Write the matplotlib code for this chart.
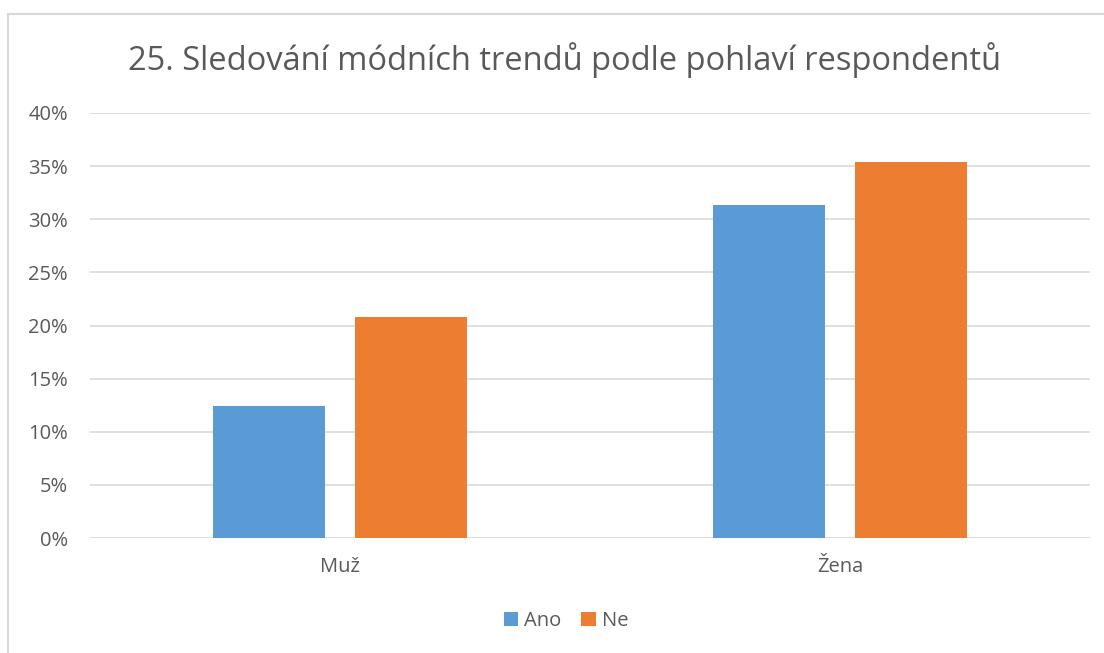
import matplotlib.pyplot as plt
from matplotlib.patches import Rectangle
import numpy as np

categories = ["Muž", "Žena"]
series_names = ["Ano", "Ne"]
ano = [0.124, 0.313]
ne = [0.208, 0.354]
yticks = [0, 0.05, 0.10, 0.15, 0.20, 0.25, 0.30, 0.35, 0.40]

text_col = "#595959"
grid_col = "#d9d9d9"
colors = ["#5b9bd5", "#ed7d31"]

plt.rcParams['font.family'] = ['Open Sans', 'DejaVu Sans']

fig = plt.figure(figsize=(11.04, 6.53), dpi=100)
W, H = 1104, 653

# outer chart frame
fig.patches.append(Rectangle((8 / W, -0.01), 1.1, 1 - 14 / H + 0.01, transform=fig.transFigure,
                             fill=False, edgecolor=grid_col, linewidth=1.5))

ax = fig.add_axes([90 / W, 1 - 538 / H, 1000 / W, 425 / H])
x = np.arange(len(categories))
bw = 0.224
off = 0.142
ax.bar(x - off, ano, bw, color=colors[0], label=series_names[0], zorder=3)
ax.bar(x + off, ne, bw, color=colors[1], label=series_names[1], zorder=3)

ax.set_xlim(-0.5, 1.5)
ax.set_ylim(0, 0.40)
ax.set_yticks(yticks)
ax.set_yticklabels([f"{int(round(v * 100))}%" for v in yticks])
ax.set_xticks(x)
ax.set_xticklabels(categories)
ax.tick_params(axis='both', length=0, labelsize=14.5, colors=text_col)
ax.tick_params(axis='y', pad=16)
ax.tick_params(axis='x', pad=14)
ax.grid(axis='y', color=grid_col, linewidth=1.2, zorder=0)
for s in ax.spines.values():
    s.set_visible(False)

fig.text(565 / W, 1 - 60 / H, "25. Sledování módních trendů podle pohlaví respondentů",
         ha='center', va='center', fontsize=23.5, color=text_col)

leg = fig.legend(loc='center', bbox_to_anchor=(566 / W, 1 - 621 / H), ncol=2, frameon=False,
                 fontsize=14.5, handlelength=0.7, handleheight=0.7, handletextpad=0.3,
                 columnspacing=1.0)
for t in leg.get_texts():
    t.set_color(text_col)

fig.savefig("out.png", dpi=100)
